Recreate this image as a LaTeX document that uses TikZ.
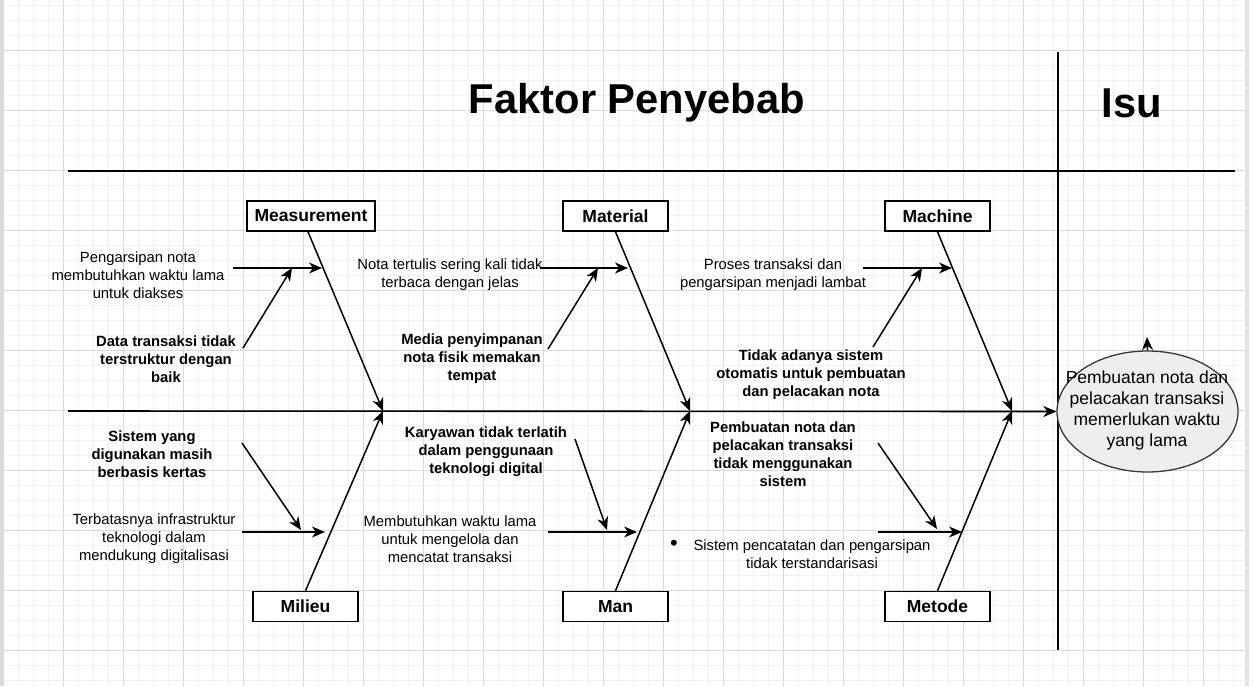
\documentclass[tikz,border=0pt]{standalone}
\usepackage{fontspec}
\setmainfont{Liberation Sans}
\usetikzlibrary{arrows.meta,shapes.geometric}
\definecolor{gmaj}{HTML}{DADADA}
\definecolor{gmin}{HTML}{F2F2F2}
\definecolor{issfill}{HTML}{EEEEEE}
\definecolor{issdraw}{HTML}{36393D}
\begin{document}
\begin{tikzpicture}[x=1pt,y=-1pt,
  catbox/.style={draw, line width=1.6pt, minimum width=105pt, minimum height=30pt, inner sep=0pt, fill=white, font=\bfseries\fontsize{17.5}{21}\selectfont},
  cause/.style={align=center, inner sep=0pt, font=\fontsize{14.8}{18}\selectfont},
  bcause/.style={align=center, inner sep=0pt, font=\bfseries\fontsize{14.8}{18}\selectfont},
  arr/.style={line width=1.5pt, -{Stealth[length=13pt,width=11pt,inset=4pt]}},
  bone/.style={line width=1.5pt, -{Stealth[length=13pt,width=11pt,inset=4pt]}},
  frameline/.style={line width=1.6pt},
  titletext/.style={inner sep=0pt, font=\bfseries\fontsize{41.7}{50}\selectfont}]
\useasboundingbox (0,0) rectangle (1255,686);
\fill[white] (0,0) rectangle (1255,686);
% grid
\foreach \x in {3,18,...,1240} \draw[gmin, line width=1pt] (\x,0) -- (\x,686);
\foreach \y in {5,20,...,685} \draw[gmin, line width=1pt] (4,\y) -- (1245,\y);
\foreach \x in {63,123,...,1203} \draw[gmaj, line width=1pt] (\x,0) -- (\x,686);
\foreach \y in {50,110,...,650} \draw[gmaj, line width=1pt] (4,\y) -- (1245,\y);
\fill[gray!30] (0,0) rectangle (4,686);
\fill[gray!22] (1245,0) rectangle (1249,686);

% titles
\node[titletext] (title) at (637,103) {Faktor Penyebab};
\node[titletext] (isu) at (1132,103) {Isu};

% frame lines
\coordinate (hl) at (68,171);
\coordinate (hr) at (1235,171);
\coordinate (vt) at (1058,52);
\coordinate (vb) at (1058,650);
\draw[frameline] (hl) -- (hr);
\draw[frameline] (vt) -- (vb);

% issue ellipse
\node[ellipse, draw=issdraw, fill=issfill, line width=1.3pt, minimum width=181pt, minimum height=121pt, inner sep=0pt] (iss) at (1147.5,411.5) {};
\node[align=center, inner sep=0pt, font=\fontsize{17.5}{21}\selectfont] (isstext) at (1147,410.5) {Pembuatan nota dan\\pelacakan transaksi\\memerlukan waktu\\yang lama};
\coordinate (isstop) at (1147,337);
\draw[arr] (iss.north) -- (isstop);

% spine
\coordinate (spl) at (68,411);
\draw[arr, line width=1.6pt] (spl) -- (iss.west);
\coordinate (sp1) at (383,411);
\coordinate (sp2) at (690,411);
\coordinate (sp3) at (1012,411);

% category boxes
\node[catbox, minimum width=128pt] (meas) at (311,216) {Measurement};
\node[catbox] (mat) at (615.5,216) {Material};
\node[catbox] (mach) at (937.5,216) {Machine};
\node[catbox] (mil) at (305.5,606.5) {Milieu};
\node[catbox] (man) at (615.5,606.5) {Man};
\node[catbox] (met) at (937.5,606.5) {Metode};

\draw[bone] ([xshift=-3pt]meas.south) -- (sp1);
\draw[bone] (mat.south) -- (sp2);
\draw[bone] (mach.south) -- (sp3);
\draw[bone] (mil.north) -- (sp1);
\draw[bone] (man.north) -- (sp2);
\draw[bone] (met.north) -- (sp3);

% Measurement causes
\node[cause] (m1) at (138,275) {Pengarsipan nota\\membutuhkan waktu lama\\untuk diakses};
\node[bcause] (m2) at (166,359) {Data transaksi tidak\\terstruktur dengan\\baik};
\coordinate (m1s) at (233,268); \coordinate (m1e) at (322,268);
\coordinate (m2s) at (243,348); \coordinate (m2e) at (292,268);
\draw[arr] (m1s) -- (m1e);
\draw[arr] (m2s) -- (m2e);

% Material causes
\node[cause] (a1) at (450,275) {Nota tertulis sering kali tidak\\terbaca dengan jelas};
\node[bcause] (a2) at (472,359) {Media penyimpanan\\nota fisik memakan\\tempat};
\coordinate (a1s) at (540,268); \coordinate (a1e) at (628,268);
\coordinate (a2s) at (548,349); \coordinate (a2e) at (598,268);
\draw[arr] (a1s) -- (a1e);
\draw[arr] (a2s) -- (a2e);

% Machine causes
\node[cause] (c1) at (773,275) {Proses transaksi dan\\pengarsipan menjadi lambat};
\node[bcause] (c2) at (811,375) {Tidak adanya sistem\\otomatis untuk pembuatan\\dan pelacakan nota};
\coordinate (c1s) at (863,268); \coordinate (c1e) at (952,268);
\coordinate (c2s) at (873,347); \coordinate (c2e) at (922,268);
\draw[arr] (c1s) -- (c1e);
\draw[arr] (c2s) -- (c2e);

% Milieu causes
\node[bcause] (l1) at (152,454) {Sistem yang\\digunakan masih\\berbasis kertas};
\node[cause] (l2) at (154,539) {Terbatasnya infrastruktur\\teknologi dalam\\mendukung digitalisasi};
\coordinate (l2s) at (242,532); \coordinate (l2e) at (325,532);
\coordinate (l1s) at (242,443); \coordinate (l1e) at (301,530);
\draw[arr] (l2s) -- (l2e);
\draw[arr] (l1s) -- (l1e);

% Man causes
\node[bcause] (n1) at (486,452) {Karyawan tidak terlatih\\dalam penggunaan\\teknologi digital};
\node[cause] (n2) at (450,539) {Membutuhkan waktu lama\\untuk mengelola dan\\mencatat transaksi};
\coordinate (n2s) at (548,532); \coordinate (n2e) at (637,532);
\coordinate (n1s) at (575,439); \coordinate (n1e) at (607,530);
\draw[arr] (n2s) -- (n2e);
\draw[arr] (n1s) -- (n1e);

% Metode causes
\node[bcause] (t1) at (783,454) {Pembuatan nota dan\\pelacakan transaksi\\tidak menggunakan\\sistem};
\node[cause] (t2) at (812,554) {Sistem pencatatan dan pengarsipan\\tidak terstandarisasi};
\node[inner sep=0pt, font=\fontsize{22}{22}\selectfont] (t2b) at (674,545) {\textbullet};
\coordinate (t2s) at (878,532); \coordinate (t2e) at (962,532);
\coordinate (t1s) at (878,443); \coordinate (t1e) at (937,529);
\draw[arr] (t2s) -- (t2e);
\draw[arr] (t1s) -- (t1e);
\end{tikzpicture}
\end{document}
